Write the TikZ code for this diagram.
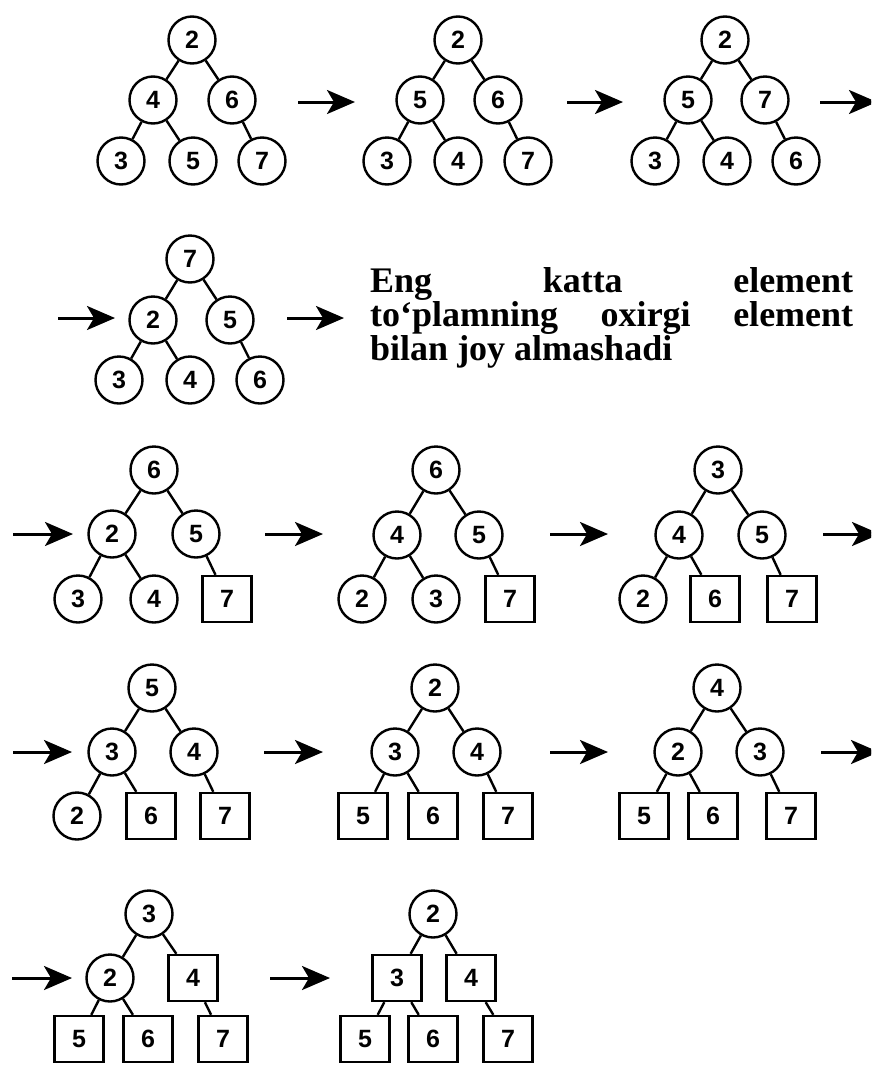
\documentclass[tikz,border=0pt]{standalone}
\usepackage{fontspec}
\newfontfamily\digitfont{Liberation Sans}
\newfontfamily\notefont{Liberation Serif}
\usetikzlibrary{arrows.meta}

\begin{document}
\begin{tikzpicture}[x=1pt,y=-1pt,
  key/.style={circle, draw, line width=2.4pt, minimum size=47pt, inner sep=0pt,
    font=\digitfont\bfseries\fontsize{25}{25}\selectfont},
  done/.style={rectangle, draw, line width=2.4pt, minimum width=49pt, minimum height=46pt,
    inner sep=0pt, font=\digitfont\bfseries\fontsize{25}{25}\selectfont},
  link/.style={line width=2.4pt},
  flow/.style={line width=3pt, -{Stealth[length=28pt,width=24pt,inset=7pt]}},
  note/.style={anchor=base west, inner sep=0pt,
    font=\notefont\bfseries\fontsize{36}{32}\selectfont}
]
\useasboundingbox (0,0) rectangle (871,1066);
\clip (0,0) rectangle (871,1066);

% ---- row 1 ----
\node[key] (t1-r) at (192,40) {2};
\node[key] (t1-a) at (153,100) {4};
\node[key] (t1-b) at (232,100) {6};
\node[key] (t1-c) at (121,161) {3};
\node[key] (t1-d) at (193,161) {5};
\node[key] (t1-e) at (262,161) {7};

\node[key] (t2-r) at (458,40) {2};
\node[key] (t2-a) at (420,100) {5};
\node[key] (t2-b) at (498,100) {6};
\node[key] (t2-c) at (387,161) {3};
\node[key] (t2-d) at (458,161) {4};
\node[key] (t2-e) at (528,161) {7};

\node[key] (t3-r) at (725,40) {2};
\node[key] (t3-a) at (688,100) {5};
\node[key] (t3-b) at (765,100) {7};
\node[key] (t3-c) at (655,161) {3};
\node[key] (t3-d) at (727,161) {4};
\node[key] (t3-e) at (796,161) {6};

% ---- row 2 ----
\node[key] (t4-r) at (190,259) {7};
\node[key] (t4-a) at (153,320) {2};
\node[key] (t4-b) at (230,320) {5};
\node[key] (t4-c) at (119,380) {3};
\node[key] (t4-d) at (190,380) {4};
\node[key] (t4-e) at (260,380) {6};

\node[note] (l1) at (370,292) {\makebox[483pt][s]{Eng katta element}};
\node[note] (l2) at (370,326) {\makebox[483pt][s]{to‘plamning oxirgi element}};
\node[note] (l3) at (370,360) {bilan joy almashadi};

% ---- row 3 ----
\node[key]  (t5-r) at (154,470) {6};
\node[key]  (t5-a) at (112,534) {2};
\node[key]  (t5-b) at (196,534) {5};
\node[key]  (t5-c) at (78,599) {3};
\node[key]  (t5-d) at (154,599) {4};
\node[done] (t5-e) at (227,599) {7};

\node[key]  (t6-r) at (436,470) {6};
\node[key]  (t6-a) at (397,535) {4};
\node[key]  (t6-b) at (479,535) {5};
\node[key]  (t6-c) at (362,599) {2};
\node[key]  (t6-d) at (436,599) {3};
\node[done] (t6-e) at (510,599) {7};

\node[key]  (t7-r) at (718,470) {3};
\node[key]  (t7-a) at (679,535) {4};
\node[key]  (t7-b) at (762,535) {5};
\node[key]  (t7-c) at (643,599) {2};
\node[done] (t7-d) at (715,599) {6};
\node[done] (t7-e) at (792,599) {7};

% ---- row 4 ----
\node[key]  (t8-r) at (152,688) {5};
\node[key]  (t8-a) at (112,752) {3};
\node[key]  (t8-b) at (194,752) {4};
\node[key]  (t8-c) at (77,816) {2};
\node[done] (t8-d) at (151,816) {6};
\node[done] (t8-e) at (225,816) {7};

\node[key]  (t9-r) at (435,688) {2};
\node[key]  (t9-a) at (395,752) {3};
\node[key]  (t9-b) at (477,752) {4};
\node[done] (t9-c) at (363,816) {5};
\node[done] (t9-d) at (433,816) {6};
\node[done] (t9-e) at (508,816) {7};

\node[key]  (t10-r) at (717,688) {4};
\node[key]  (t10-a) at (678,752) {2};
\node[key]  (t10-b) at (760,752) {3};
\node[done] (t10-c) at (644,816) {5};
\node[done] (t10-d) at (713,816) {6};
\node[done] (t10-e) at (791,816) {7};

% ---- row 5 ----
\node[key]  (t11-r) at (149,914) {3};
\node[key]  (t11-a) at (110,978) {2};
\node[done] (t11-b) at (193,978) {4};
\node[done] (t11-c) at (79,1039) {5};
\node[done] (t11-d) at (148,1039) {6};
\node[done] (t11-e) at (223,1039) {7};

\node[key]  (t12-r) at (433,914) {2};
\node[done] (t12-a) at (397,978) {3};
\node[done] (t12-b) at (471,978) {4};
\node[done] (t12-c) at (365,1039) {5};
\node[done] (t12-d) at (433,1039) {6};
\node[done] (t12-e) at (508,1039) {7};

% tree edges
\foreach \t in {1,...,12}
  \draw[link] (t\t-r) -- (t\t-a)  (t\t-r) -- (t\t-b)
              (t\t-a) -- (t\t-c)  (t\t-a) -- (t\t-d)
              (t\t-b) -- (t\t-e);

% step arrows
\coordinate (s1) at (298,102);  \coordinate (e1) at (355,102);
\coordinate (s2) at (567,102);  \coordinate (e2) at (623,102);
\coordinate (s3) at (820,102);  \coordinate (e3) at (877,102);
\coordinate (s4) at (58,318);   \coordinate (e4) at (115,318);
\coordinate (s5) at (287,318);  \coordinate (e5) at (344,318);
\coordinate (s6) at (13,534);   \coordinate (e6) at (73,534);
\coordinate (s7) at (265,534);  \coordinate (e7) at (323,534);
\coordinate (s8) at (550,534);  \coordinate (e8) at (608,534);
\coordinate (s9) at (823,534);  \coordinate (e9) at (880,534);
\coordinate (s10) at (13,752);  \coordinate (e10) at (72,752);
\coordinate (s11) at (264,752); \coordinate (e11) at (323,752);
\coordinate (s12) at (550,752); \coordinate (e12) at (608,752);
\coordinate (s13) at (821,752); \coordinate (e13) at (879,752);
\coordinate (s14) at (12,978);  \coordinate (e14) at (72,978);
\coordinate (s15) at (270,978); \coordinate (e15) at (330,978);
\foreach \k in {1,...,15}
  \draw[flow] (s\k) -- (e\k);
\end{tikzpicture}
\end{document}
